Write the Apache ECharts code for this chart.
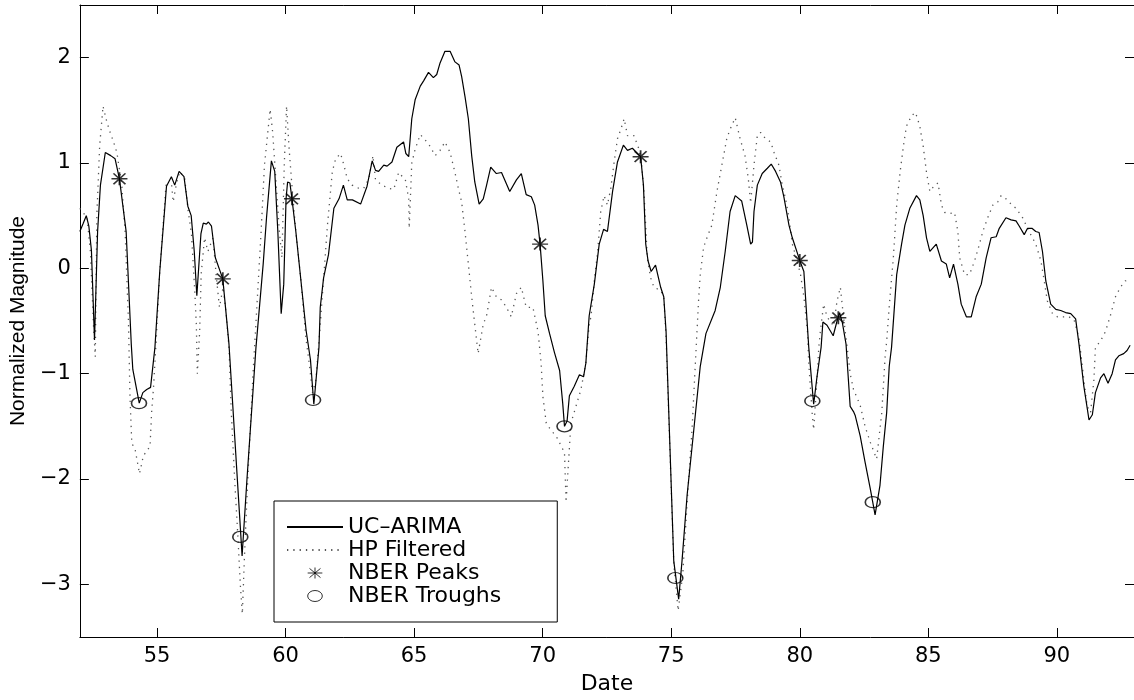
<!DOCTYPE html>
<html>
<head>
<meta charset="utf-8">
<script src="https://cdn.jsdelivr.net/npm/echarts/dist/echarts.min.js"></script>
<style>
html,body{margin:0;padding:0;background:#fff;}
#chart{width:1134px;height:700px;}
</style>
</head>
<body>
<div id="chart"></div>
<script>
// ---- data ----
const xTicks = [55, 60, 65, 70, 75, 80, 85, 90];
const yTicks = [-3, -2, -1, 0, 1, 2];

const ucArima = [[52.0,0.35],[52.12,0.42],[52.25,0.50],[52.35,0.40],[52.45,0.17],[52.57,-0.68],[52.69,0.35],[52.8,0.79],[52.99,1.10],[53.2,1.07],[53.37,1.04],[53.54,0.85],[53.8,0.35],[54.0,-0.72],[54.06,-0.96],[54.31,-1.28],[54.45,-1.18],[54.6,-1.15],[54.75,-1.13],[54.92,-0.75],[55.11,-0.02],[55.37,0.78],[55.56,0.87],[55.69,0.79],[55.86,0.92],[56.05,0.87],[56.2,0.59],[56.33,0.50],[56.45,0.16],[56.55,-0.26],[56.71,0.33],[56.8,0.43],[56.92,0.42],[57.0,0.44],[57.12,0.40],[57.27,0.10],[57.56,-0.10],[57.8,-0.72],[58.31,-2.73],[58.5,-2.0],[58.85,-0.75],[59.13,0.04],[59.26,0.48],[59.45,1.02],[59.58,0.92],[59.7,0.35],[59.83,-0.43],[59.93,-0.15],[60.02,0.66],[60.08,0.82],[60.17,0.81],[60.25,0.66],[60.4,0.35],[60.6,-0.12],[60.8,-0.59],[60.97,-0.87],[61.1,-1.29],[61.3,-0.75],[61.35,-0.37],[61.48,-0.09],[61.67,0.13],[61.88,0.57],[62.08,0.66],[62.25,0.79],[62.4,0.65],[62.6,0.65],[62.92,0.61],[63.17,0.78],[63.37,1.02],[63.5,0.93],[63.62,0.92],[63.82,0.98],[63.95,0.97],[64.14,1.01],[64.33,1.15],[64.59,1.20],[64.68,1.09],[64.79,1.06],[64.91,1.42],[65.04,1.60],[65.24,1.73],[65.37,1.78],[65.56,1.86],[65.75,1.81],[65.88,1.84],[66.01,1.95],[66.2,2.06],[66.4,2.06],[66.59,1.96],[66.75,1.93],[66.85,1.82],[66.98,1.63],[67.11,1.42],[67.24,1.07],[67.36,0.82],[67.53,0.61],[67.69,0.66],[67.82,0.79],[67.98,0.96],[68.2,0.90],[68.4,0.91],[68.72,0.73],[68.98,0.84],[69.17,0.90],[69.36,0.70],[69.56,0.68],[69.69,0.60],[69.82,0.41],[69.9,0.23],[70.01,-0.12],[70.1,-0.45],[70.27,-0.62],[70.46,-0.8],[70.66,-0.97],[70.78,-1.28],[70.85,-1.50],[70.95,-1.45],[71.04,-1.21],[71.23,-1.12],[71.43,-1.01],[71.59,-1.03],[71.68,-0.90],[71.81,-0.45],[72.01,-0.15],[72.2,0.23],[72.37,0.37],[72.52,0.35],[72.72,0.73],[72.91,1.01],[73.14,1.17],[73.3,1.12],[73.49,1.14],[73.81,1.06],[73.92,0.79],[74.01,0.23],[74.1,0.07],[74.22,-0.03],[74.39,0.03],[74.59,-0.18],[74.71,-0.27],[74.8,-0.6],[75.1,-2.78],[75.29,-3.14],[75.42,-2.78],[75.62,-2.15],[75.88,-1.53],[76.13,-0.93],[76.35,-0.62],[76.71,-0.40],[76.91,-0.18],[77.1,0.16],[77.29,0.54],[77.49,0.69],[77.74,0.64],[77.94,0.41],[78.09,0.23],[78.16,0.25],[78.22,0.54],[78.35,0.79],[78.54,0.90],[78.74,0.95],[78.89,0.99],[79.06,0.92],[79.25,0.82],[79.38,0.68],[79.58,0.41],[79.71,0.29],[80.0,0.075],[80.16,-0.03],[80.35,-0.75],[80.54,-1.29],[80.67,-1.03],[80.83,-0.75],[80.9,-0.51],[81.06,-0.54],[81.3,-0.64],[81.45,-0.50],[81.55,-0.42],[81.66,-0.52],[81.8,-0.72],[81.96,-1.31],[82.09,-1.36],[82.16,-1.40],[82.35,-1.59],[82.54,-1.84],[82.74,-2.09],[82.93,-2.34],[83.12,-2.06],[83.25,-1.69],[83.38,-1.37],[83.48,-0.93],[83.57,-0.75],[83.77,-0.06],[83.96,0.23],[84.09,0.41],[84.28,0.57],[84.54,0.69],[84.67,0.65],[84.8,0.50],[84.93,0.29],[85.06,0.16],[85.31,0.23],[85.51,0.07],[85.7,0.04],[85.83,-0.09],[85.98,0.04],[86.15,-0.15],[86.28,-0.34],[86.48,-0.46],[86.67,-0.46],[86.86,-0.27],[87.06,-0.15],[87.25,0.10],[87.44,0.29],[87.64,0.30],[87.76,0.38],[88.02,0.48],[88.22,0.46],[88.41,0.45],[88.54,0.40],[88.73,0.32],[88.86,0.38],[89.03,0.38],[89.18,0.35],[89.31,0.34],[89.44,0.16],[89.57,-0.12],[89.76,-0.34],[89.96,-0.39],[90.15,-0.40],[90.34,-0.42],[90.54,-0.43],[90.73,-0.48],[90.86,-0.72],[91.05,-1.12],[91.25,-1.44],[91.38,-1.39],[91.5,-1.18],[91.7,-1.04],[91.83,-1.0],[91.99,-1.09],[92.15,-1.0],[92.28,-0.87],[92.41,-0.83],[92.6,-0.81],[92.73,-0.78],[92.85,-0.73]];

const hpFiltered = [[52.0,0.57],[52.28,0.48],[52.41,0.16],[52.54,-0.59],[52.6,-0.84],[52.66,0.50],[52.77,1.16],[52.9,1.54],[53.05,1.39],[53.18,1.29],[53.31,1.20],[53.44,1.10],[53.63,0.79],[53.76,0.35],[53.89,-0.5],[53.95,-1.22],[54.02,-1.66],[54.15,-1.72],[54.32,-1.95],[54.47,-1.78],[54.73,-1.69],[54.79,-1.37],[54.86,-1.15],[54.96,-0.72],[55.11,-0.02],[55.35,0.79],[55.57,0.79],[55.63,0.63],[55.76,0.81],[55.89,0.92],[56.08,0.85],[56.21,0.55],[56.34,0.33],[56.47,-0.22],[56.53,-0.53],[56.57,-1.0],[56.66,-0.6],[56.72,-0.05],[56.85,0.29],[56.98,0.16],[57.18,0.29],[57.3,-0.06],[57.43,-0.37],[57.57,-0.18],[57.69,-0.43],[57.8,-0.75],[57.89,-1.37],[58.02,-2.0],[58.15,-2.56],[58.24,-3.0],[58.32,-3.28],[58.4,-2.75],[58.53,-2.0],[58.66,-1.37],[58.75,-0.93],[58.83,-0.6],[59.05,0.35],[59.18,0.98],[59.31,1.29],[59.4,1.51],[59.5,1.29],[59.63,0.82],[59.76,0.35],[59.86,0.10],[59.95,0.98],[60.04,1.54],[60.14,1.13],[60.27,0.72],[60.4,0.35],[60.6,-0.12],[60.79,-0.66],[60.92,-0.9],[61.05,-1.18],[61.18,-1.06],[61.28,-0.75],[61.33,-0.6],[61.5,-0.03],[61.63,0.41],[61.82,0.92],[61.95,1.04],[62.14,1.09],[62.27,0.98],[62.4,0.85],[62.59,0.79],[62.85,0.76],[63.04,0.76],[63.24,0.85],[63.4,1.07],[63.5,0.84],[63.75,0.79],[64.01,0.76],[64.21,0.75],[64.4,0.91],[64.66,0.84],[64.79,0.66],[64.81,0.38],[64.91,1.0],[65.04,1.13],[65.24,1.27],[65.43,1.22],[65.62,1.16],[65.82,1.07],[66.01,1.12],[66.2,1.20],[66.4,1.10],[66.59,0.91],[66.72,0.76],[66.85,0.63],[66.98,0.35],[67.11,0.04],[67.24,-0.27],[67.36,-0.53],[67.49,-0.81],[67.69,-0.53],[67.82,-0.45],[68.01,-0.18],[68.2,-0.27],[68.4,-0.30],[68.59,-0.37],[68.78,-0.46],[68.98,-0.24],[69.17,-0.18],[69.36,-0.37],[69.62,-0.37],[69.82,-0.6],[69.94,-0.9],[70.01,-1.22],[70.14,-1.47],[70.33,-1.54],[70.52,-1.59],[70.85,-1.75],[70.91,-2.22],[71.1,-1.47],[71.49,-1.15],[71.68,-0.9],[71.81,-0.53],[71.88,-0.46],[72.01,-0.12],[72.14,0.16],[72.26,0.54],[72.39,0.69],[72.52,0.6],[72.65,0.76],[72.78,1.01],[72.91,1.23],[73.04,1.32],[73.17,1.42],[73.3,1.26],[73.55,1.26],[73.75,1.13],[73.84,1.01],[73.94,0.73],[74.07,0.10],[74.2,-0.09],[74.33,-0.18],[74.59,-0.21],[74.71,-0.27],[74.8,-0.65],[75.1,-2.8],[75.27,-3.25],[75.45,-2.9],[75.62,-2.22],[75.81,-1.53],[75.94,-0.9],[76.07,-0.28],[76.13,-0.06],[76.26,0.2],[76.39,0.29],[76.58,0.41],[76.78,0.73],[76.97,0.98],[77.16,1.23],[77.29,1.32],[77.49,1.43],[77.68,1.23],[77.87,1.07],[78.0,0.85],[78.09,0.62],[78.22,0.98],[78.35,1.26],[78.48,1.29],[78.67,1.23],[78.87,1.20],[79.0,1.10],[79.19,0.98],[79.32,0.79],[79.45,0.66],[79.58,0.48],[79.71,0.23],[79.9,0.07],[80.03,-0.06],[80.16,-0.27],[80.3,-0.6],[80.35,-0.9],[80.48,-1.37],[80.54,-1.53],[80.67,-1.06],[80.74,-0.75],[80.8,-0.6],[80.93,-0.34],[81.06,-0.46],[81.32,-0.55],[81.45,-0.31],[81.58,-0.18],[81.7,-0.46],[81.83,-0.72],[81.96,-1.0],[82.09,-1.15],[82.35,-1.3],[82.54,-1.5],[82.74,-1.65],[82.99,-1.81],[83.19,-1.37],[83.32,-0.84],[83.38,-0.69],[83.51,-0.27],[83.64,0.10],[83.77,0.6],[83.9,0.91],[84.03,1.16],[84.15,1.35],[84.35,1.45],[84.5,1.48],[84.67,1.35],[84.8,1.16],[84.93,0.91],[85.06,0.73],[85.25,0.79],[85.38,0.81],[85.51,0.6],[85.64,0.53],[85.83,0.52],[86.02,0.53],[86.15,0.35],[86.22,0.1],[86.41,-0.06],[86.6,-0.06],[86.8,0.07],[86.99,0.23],[87.12,0.35],[87.31,0.48],[87.51,0.6],[87.7,0.63],[87.83,0.69],[88.02,0.66],[88.22,0.61],[88.41,0.57],[88.67,0.48],[88.92,0.35],[89.18,0.23],[89.38,0.07],[89.51,-0.12],[89.63,-0.31],[89.83,-0.43],[90.02,-0.46],[90.21,-0.46],[90.47,-0.46],[90.67,-0.49],[90.86,-0.66],[91.05,-1.06],[91.18,-1.31],[91.31,-1.37],[91.44,-1.06],[91.5,-0.75],[91.7,-0.69],[91.89,-0.6],[92.08,-0.45],[92.28,-0.27],[92.47,-0.18],[92.66,-0.12],[92.85,-0.1]];

const nberPeaks = [[53.54,0.85],[57.56,-0.10],[60.25,0.66],[69.9,0.23],[73.81,1.06],[80.0,0.075],[81.5,-0.47]];
const nberTroughs = [[54.3,-1.28],[58.24,-2.55],[61.07,-1.25],[70.85,-1.50],[75.16,-2.94],[80.49,-1.26],[82.84,-2.22]];

const seriesNames = ['UC\u2013ARIMA', 'HP Filtered', 'NBER Peaks', 'NBER Troughs'];

// ---- chart ----
const STAR = 'path://M0,6 L16,6 M8,0 L8,12 M2,1 L14,11 M2,11 L14,1';
const ELLIPSE = 'path://M0,6 A8,6 0 1,1 16,6 A8,6 0 1,1 0,6 Z';
const minus = v => String(v).replace('-', '\u2212');
const axisCommon = {
  type: 'value', splitLine: {show: false},
  axisLine: {show: true, onZero: false, lineStyle: {color: '#000', width: 1}},
};
const tickFont = {fontFamily: 'DejaVu Sans', fontSize: 21, color: '#000'};
const hiddenSymbol = {color: 'rgba(0,0,0,0)', borderColor: 'rgba(0,0,0,0)', borderWidth: 0, opacity: 0};

const chart = echarts.init(document.getElementById('chart'), null, {renderer: 'canvas'});
chart.setOption({
  animation: false,
  backgroundColor: '#fff',
  grid: {left: 79, top: 5, width: 1060, height: 637, containLabel: false},
  xAxis: [
    Object.assign({}, axisCommon, {
      position: 'bottom', min: 52, max: 93,
      axisTick: {show: true, inside: true, length: 9, customValues: xTicks, lineStyle: {color: '#000'}},
      axisLabel: Object.assign({show: true, margin: 9, customValues: xTicks, formatter: minus}, tickFont),
      name: 'Date', nameLocation: 'middle', nameGap: 36,
      nameTextStyle: {fontFamily: 'DejaVu Sans', fontSize: 22, color: '#000'}
    }),
    Object.assign({}, axisCommon, {
      position: 'top', min: 52, max: 93,
      axisTick: {show: true, inside: true, length: 9, customValues: xTicks, lineStyle: {color: '#000'}},
      axisLabel: {show: false}
    })
  ],
  yAxis: [
    Object.assign({}, axisCommon, {
      position: 'left', min: -3.5, max: 2.5,
      axisTick: {show: true, inside: true, length: 9, customValues: yTicks, lineStyle: {color: '#000'}},
      axisLabel: Object.assign({show: true, margin: 9, customValues: yTicks, formatter: minus}, tickFont),
      name: 'Normalized Magnitude', nameLocation: 'middle', nameGap: 47, nameRotate: 90,
      nameTextStyle: {fontFamily: 'Liberation Sans', fontSize: 21, color: '#000'}
    }),
    Object.assign({}, axisCommon, {
      position: 'right', min: -3.5, max: 2.5,
      axisTick: {show: true, inside: true, length: 9, customValues: yTicks, lineStyle: {color: '#000'}},
      axisLabel: {show: false}
    })
  ],
  legend: {
    orient: 'vertical', left: 274, top: 501,
    padding: [15, 56, 15, 12],
    itemWidth: 56, itemHeight: 11, itemGap: 1,
    backgroundColor: '#fff', borderColor: '#000', borderWidth: 1,
    selectedMode: false,
    textStyle: {fontFamily: 'DejaVu Sans', fontSize: 22, color: '#000'},
    data: [
      {name: seriesNames[0], itemStyle: hiddenSymbol},
      {name: seriesNames[1], itemStyle: hiddenSymbol},
      {name: seriesNames[2], icon: STAR, itemStyle: {color: 'rgba(0,0,0,0)', borderColor: '#000', borderWidth: 1}},
      {name: seriesNames[3], icon: ELLIPSE, itemStyle: {color: 'rgba(0,0,0,0)', borderColor: '#000', borderWidth: 1}}
    ]
  },
  series: [
    {
      name: seriesNames[0], type: 'line', xAxisIndex: 0, yAxisIndex: 0,
      data: ucArima, symbol: 'none', z: 3,
      lineStyle: {color: '#000', width: 1.2}, itemStyle: {color: '#000'}
    },
    {
      name: seriesNames[1], type: 'line', xAxisIndex: 0, yAxisIndex: 0,
      data: hpFiltered, symbol: 'none', z: 2,
      lineStyle: {color: '#555', width: 1.3, type: [1.3, 5]}, itemStyle: {color: '#555'}
    },
    {
      name: seriesNames[2], type: 'scatter', xAxisIndex: 0, yAxisIndex: 0,
      data: nberPeaks, symbol: STAR, symbolSize: [16, 13], z: 4,
      itemStyle: {color: 'rgba(0,0,0,0)', borderColor: '#000', borderWidth: 1.6}
    },
    {
      name: seriesNames[3], type: 'scatter', xAxisIndex: 0, yAxisIndex: 0,
      data: nberTroughs, symbol: ELLIPSE, symbolSize: [15, 11], z: 4,
      itemStyle: {color: 'rgba(0,0,0,0)', borderColor: '#000', borderWidth: 1.4}
    }
  ]
});
</script>
</body>
</html>
